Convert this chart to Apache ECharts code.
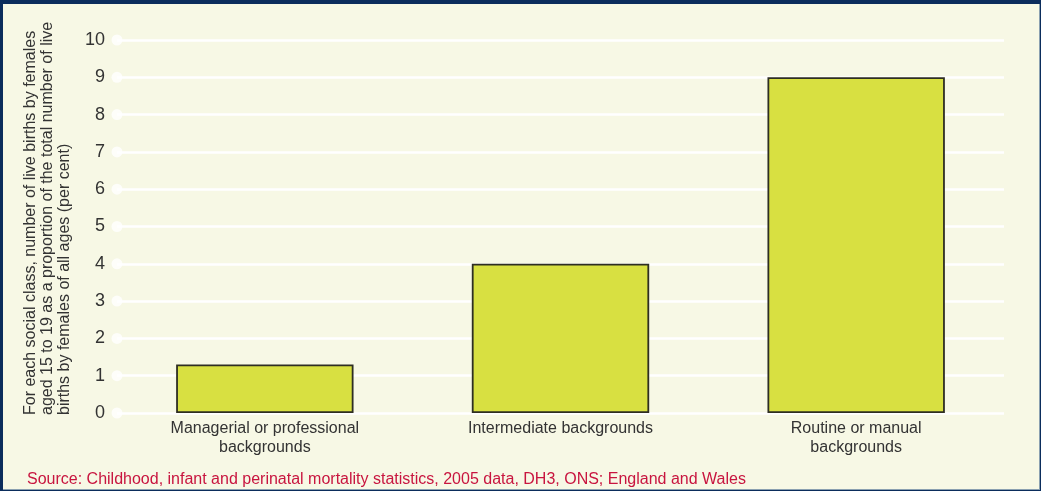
<!DOCTYPE html>
<html>
<head>
<meta charset="utf-8">
<script src="https://cdn.jsdelivr.net/npm/echarts@6/dist/echarts.min.js"></script>
<style>
html,body{margin:0;padding:0;width:1041px;height:491px;background:#0b2d5c;overflow:hidden;}
#wrap{position:absolute;left:3px;top:4px;width:1037px;height:486px;background:#8aa0b0;}
#chart{position:absolute;left:0;top:0;width:1036px;height:485px;background:#f7f8e5;}
</style>
</head>
<body>
<div id="wrap"><div id="chart"></div></div>
<script>
const categories = ['Managerial or professional\nbackgrounds', 'Intermediate backgrounds', 'Routine or manual\nbackgrounds'];
const values = [1.3, 4.0, 9.0];
const yTicks = [0, 1, 2, 3, 4, 5, 6, 7, 8, 9, 10];
const yTitleLines = ['For each social class, number of live births by females', 'aged 15 to 19 as a proportion of the total number of live', 'births by females of all ages (per cent)'];
const sourceText = 'Source: Childhood, infant and perinatal mortality statistics, 2005 data, DH3, ONS; England and Wales';

const chart = echarts.init(document.getElementById('chart'));
const OX = 3, OY = 4;
const FONT = 'Liberation Sans, Arial, sans-serif';
chart.setOption({
  animation: false,
  backgroundColor: '#f7f8e5',
  grid: { left: 117 - OX, right: 1036 - (1004 - OX), top: 40 - OY, bottom: 485 - (413 - OY), containLabel: false },
  xAxis: [{
    type: 'category', data: categories,
    axisLine: { show: false }, axisTick: { show: false },
    axisLabel: { color: '#333', fontSize: 16, fontFamily: FONT, lineHeight: 19, margin: 6, interval: 0 }
  }, {
    type: 'value', min: 0, max: 1, show: false
  }],
  yAxis: {
    type: 'value', min: 0, max: 10, interval: 1,
    axisLine: { show: false }, axisTick: { show: false },
    axisLabel: { color: '#333', fontSize: 18, fontFamily: FONT, margin: 12 },
    splitLine: { show: true, lineStyle: { color: '#ffffff', width: 2.5 } }
  },
  series: [{
    type: 'bar', data: values, barWidth: '60%', xAxisIndex: 0,
    itemStyle: { color: '#d8e041', borderColor: '#2e2e22', borderWidth: 1.8 },
    z: 3
  }, {
    type: 'scatter', xAxisIndex: 1, data: yTicks.map(t => [0, t]),
    symbol: 'circle', symbolSize: 11, itemStyle: { color: '#ffffff' }, z: 2, silent: true
  }],
  graphic: [{
    type: 'text', x: 22 - OX, y: 415 - OY, rotation: Math.PI / 2,
    style: {
      text: yTitleLines.join('\n'), fill: '#333', font: '16px "Liberation Sans", Arial, sans-serif',
      lineHeight: 17, textAlign: 'left', textVerticalAlign: 'top', align: 'left', verticalAlign: 'top'
    }
  }, {
    type: 'text', x: 27 - OX, y: 480 - OY,
    style: {
      text: sourceText, fill: '#c8153f', font: '16px "Liberation Sans", Arial, sans-serif',
      textAlign: 'left', textVerticalAlign: 'middle', align: 'left', verticalAlign: 'middle'
    }
  }]
});
</script>
</body>
</html>
